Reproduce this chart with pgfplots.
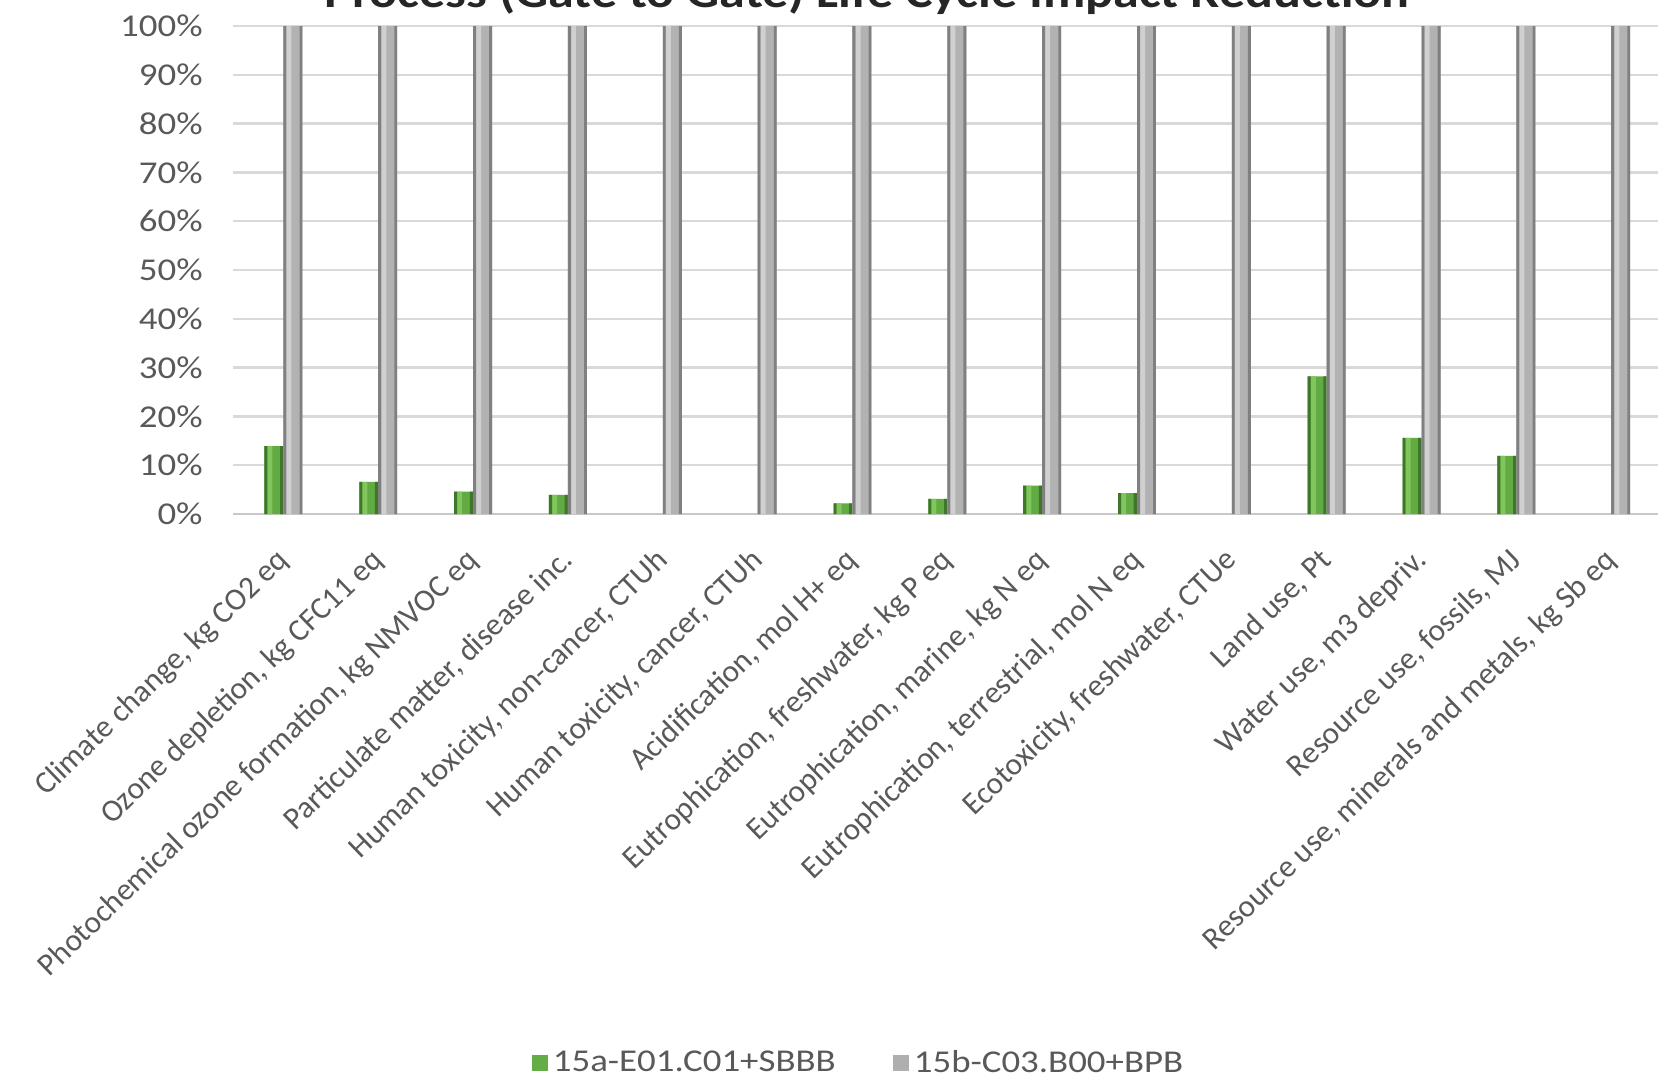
\documentclass[border=0pt]{standalone}
\usepackage{pgfplots}
\pgfplotsset{compat=1.18}
\usepackage{fontspec}
\setmainfont{Carlito}
\newfontfamily\wide{Carlito}[FakeStretch=1.16]
\definecolor{txt}{RGB}{89,89,89}
\definecolor{gridgray}{RGB}{217,217,217}
\definecolor{axisgray}{RGB}{200,200,200}
\definecolor{xlgreen}{RGB}{100,172,70}
\definecolor{xlgray}{RGB}{175,175,175}
\definecolor{gD}{RGB}{62,118,42}
\definecolor{gL}{RGB}{128,198,92}
\definecolor{gM}{RGB}{98,170,66}
\definecolor{aD}{RGB}{128,128,128}
\definecolor{aL}{RGB}{208,208,208}
\definecolor{aM}{RGB}{178,178,178}
\pgfplotstableread{
x g
0 13.9
1 6.6
2 4.6
3 3.9
6 2.2
7 3.1
8 5.8
9 4.3
11 28.2
12 15.6
13 11.9
}\green
\pgfplotstableread{
x b
0 100
1 100
2 100
3 100
4 100
5 100
6 100
7 100
8 100
9 100
10 100
11 100
12 100
13 100
14 100
}\gray
\begin{document}
\begin{tikzpicture}
\useasboundingbox (-127.53pt,-253.8pt) rectangle (618.57pt,231.3pt);
\node[anchor=base, inner sep=0pt, font=\wide\bfseries\fontsize{20.2}{24}\selectfont, text=black!85] at (262.6pt,227.9pt) {Process (Gate to Gate) Life Cycle Impact Reduction};
\begin{axis}[
  anchor=origin, at={(0pt,0pt)},
  x=42.68pt, y=2.196pt,
  xmin=-0.531, xmax=14.5, ymin=0, ymax=100,
  enlargelimits=false,
  axis lines*=left,
  x axis line style={draw=axisgray, line width=1pt, -},
  y axis line style={draw=none},
  tick style={draw=none},
  major tick length=0pt,
  ymajorgrids,
  grid style={draw=gridgray, line width=1pt},
  ytick={0,10,...,100},
  yticklabels={0\%,10\%,20\%,30\%,40\%,50\%,60\%,70\%,80\%,90\%,100\%},
  yticklabel style={anchor=east, inner sep=0pt, xshift=-13.5pt, text=txt, font=\wide\fontsize{14.3}{17}\selectfont},
  xtick={0,1,...,14},
  xticklabels={
    {Climate change, kg CO2 eq},
    {Ozone depletion, kg CFC11 eq},
    {Photochemical ozone formation, kg NMVOC eq},
    {Particulate matter, disease inc.},
    {Human toxicity, non-cancer, CTUh},
    {Human toxicity, cancer, CTUh},
    {Acidification, mol H+ eq},
    {Eutrophication, freshwater, kg P eq},
    {Eutrophication, marine, kg N eq},
    {Eutrophication, terrestrial, mol N eq},
    {Ecotoxicity, freshwater, CTUe},
    {Land use, Pt},
    {Water use, m3 depriv.},
    {Resource use, fossils, MJ},
    {Resource use, minerals and metals, kg Sb eq}},
  xticklabel style={xshift=3pt, yshift=-21.5pt, rotate=44, anchor=base east, inner sep=0pt, text=txt, font=\fontsize{14.1}{17}\selectfont},
  ybar=0pt,
  legend columns=2,
  legend style={at={(0.4398,-1.125)}, anchor=center, draw=none, fill=none,
    font=\wide\fontsize{14.3}{17}\selectfont, text=txt,
    /tikz/every even column/.append style={column sep=24pt}},
]
% green series (zero values omitted: they draw nothing)
\addplot[draw=none, fill=gM, bar width=0.2, bar shift=-0.1,
  legend image code/.code={\fill[xlgreen] (0pt,-3.6pt) rectangle (7.2pt,3.6pt);}]
  table[x=x, y=g] {\green};
\addlegendentry{15a-E01.C01+SBBB}
\addplot[forget plot, draw=none, fill=gD, bar width=0.03, bar shift=-0.185] table[x=x, y=g] {\green};
\addplot[forget plot, draw=none, fill=gL, bar width=0.05, bar shift=-0.14] table[x=x, y=g] {\green};
\addplot[forget plot, draw=none, fill=gD, bar width=0.035, bar shift=-0.0175] table[x=x, y=g] {\green};
% gray series
\addplot[draw=none, fill=aM, bar width=0.2, bar shift=0.1,
  legend image code/.code={\fill[xlgray] (0pt,-3.6pt) rectangle (7.2pt,3.6pt);}]
  table[x=x, y=b] {\gray};
\addlegendentry{15b-C03.B00+BPB}
\addplot[forget plot, draw=none, fill=aD, bar width=0.03, bar shift=0.015] table[x=x, y=b] {\gray};
\addplot[forget plot, draw=none, fill=aL, bar width=0.05, bar shift=0.06] table[x=x, y=b] {\gray};
\addplot[forget plot, draw=none, fill=aD, bar width=0.03, bar shift=0.185] table[x=x, y=b] {\gray};
\end{axis}
\end{tikzpicture}
\end{document}
